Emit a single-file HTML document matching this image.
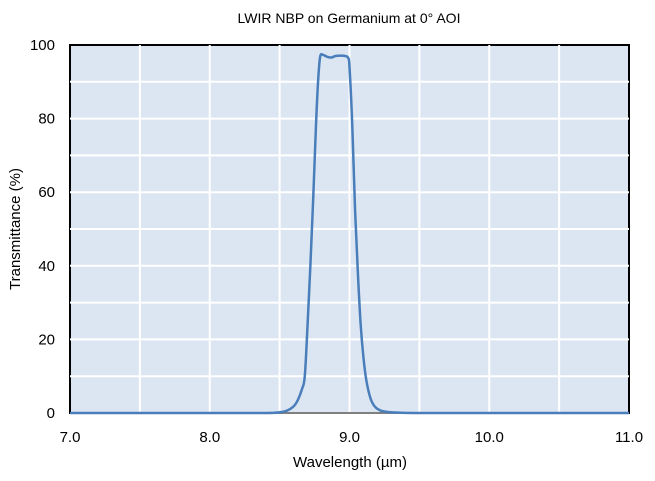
<!DOCTYPE html>
<html><head><meta charset="utf-8"><style>
body{margin:0;background:#fff;}
svg text{font-family:"Liberation Sans",sans-serif;fill:#000;}
</style></head><body>
<svg id="chart" width="655" height="476" xmlns="http://www.w3.org/2000/svg">
<text x="349" y="23" font-size="14" text-anchor="middle">LWIR NBP on Germanium at 0° AOI</text>
<rect x="70" y="45" width="559" height="368" fill="#dce6f2" stroke="#000" stroke-width="2"/>
<g id="grid"></g>
<g id="axes"></g>
<path id="series" fill="none" stroke="#4a7ebb" stroke-width="2.5"/>
<text transform="translate(20,229) rotate(-90)" font-size="15" text-anchor="middle">Transmittance (%)</text>
<text x="350" y="467" font-size="15" text-anchor="middle">Wavelength (µm)</text>
</svg>
<script>
const wavelengths=[7.0,8.0,8.4,8.5,8.55,8.6,8.63,8.66,8.68,8.7,8.72,8.74,8.76,8.775,8.79,8.81,8.84,8.87,8.9,8.94,8.97,8.99,9.0,9.02,9.04,9.06,9.08,9.1,9.12,9.15,9.18,9.22,9.28,9.35,9.5,10.0,11.0];
const transmittance=[0,0,0,0.2,0.6,1.8,3.5,6.5,10,24,40,58,78,90,96.8,97.3,96.8,96.6,97,97.1,97,96.5,94,78,55,38,24,15,9,4,1.8,0.7,0.25,0.1,0,0,0];
const xTicks=["7.0","8.0","9.0","10.0","11.0"];
const yTicks=["0","20","40","60","80","100"];
const X0=70,X1=629,Y0=413,Y1=45;
const xs=v=>X0+(v-7)/(11-7)*(X1-X0);
const ys=v=>Y0-v/100*(Y0-Y1);
const NS="http://www.w3.org/2000/svg";
const grid=document.getElementById('grid'),axes=document.getElementById('axes');
function mk(tag,attrs,parent){const e=document.createElementNS(NS,tag);for(const k in attrs)e.setAttribute(k,attrs[k]);parent.appendChild(e);return e;}
for(let v=7.5;v<11;v+=0.5){const l=mk('line',{x1:xs(v),x2:xs(v),y1:Y1,y2:Y0,stroke:'#fff','stroke-width':2},grid);

}
for(let v=10;v<100;v+=10){const l=mk('line',{x1:X0,x2:X1,y1:ys(v),y2:ys(v),stroke:'#fff','stroke-width':2},grid);

}
const ax=mk('line',{x1:X0,x2:X1,y1:Y0,y2:Y0,stroke:'#7f7f7f','stroke-width':2},axes);


xTicks.forEach(t=>{const e=mk('text',{x:xs(parseFloat(t)),y:442,'font-size':15,'text-anchor':'middle'},axes);e.textContent=t;

});
yTicks.forEach(t=>{const e=mk('text',{x:55,y:ys(parseFloat(t))+5,'font-size':15,'text-anchor':'end'},axes);e.textContent=t;

});
const P=wavelengths.map((w,i)=>[xs(w),ys(transmittance[i])]);
let d='M'+P[0][0]+','+P[0][1];
for(let i=0;i<P.length-1;i++){const p0=P[Math.max(0,i-1)],p1=P[i],p2=P[i+1],p3=P[Math.min(P.length-1,i+2)];
const c1=[p1[0]+(p2[0]-p0[0])/6,p1[1]+(p2[1]-p0[1])/6],c2=[p2[0]-(p3[0]-p1[0])/6,p2[1]-(p3[1]-p1[1])/6];
d+=` C${c1[0]},${c1[1]} ${c2[0]},${c2[1]} ${p2[0]},${p2[1]}`;}
document.getElementById('series').setAttribute('d',d);
</script>
</body></html>
